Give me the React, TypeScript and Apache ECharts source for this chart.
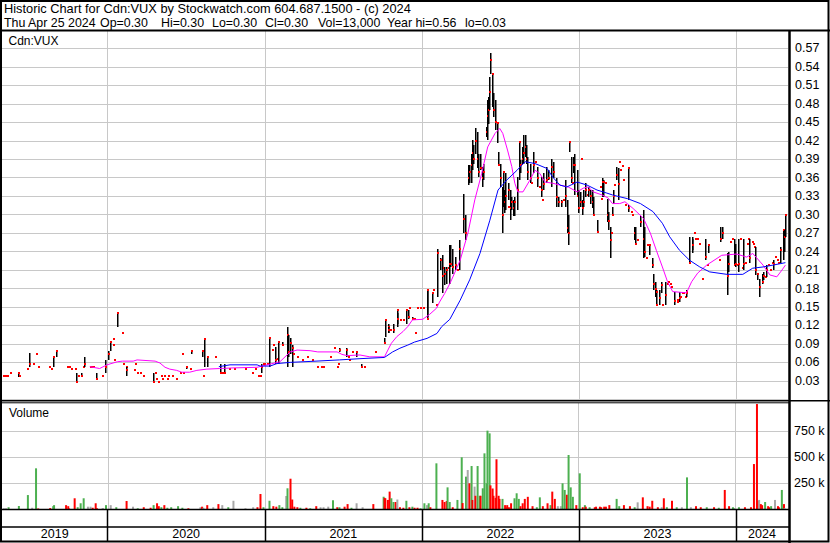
import React, { useEffect, useRef } from "react";
import * as echarts from "echarts";

const FONT = "Arial, 'Liberation Sans', sans-serif";
const FS = 12.5;

const HEADER_LINE1 = "Historic Chart for Cdn:VUX by Stockwatch.com 604.687.1500 - (c) 2024";
const HEADER_LINE2_PARTS = ["Thu Apr 25 2024", "Op=0.30", "Hi=0.30", "Lo=0.30", "Cl=0.30", "Vol=13,000", "Year hi=0.56", "lo=0.03"];
const HEADER_LINE2_X = [4, 100, 161, 212, 265, 318, 387, 465];
const PRICE_TITLE = "Cdn:VUX";
const VOLUME_TITLE = "Volume";

const X_MIN = "2019-05-01";
const X_MAX = "2024-05-01";

const yearStarts = ["2020-01-01", "2021-01-01", "2022-01-01", "2023-01-01", "2024-01-01"];
const yearSegments: [string, string, string][] = [
  ["2019-05-01", "2020-01-01", "2019"],
  ["2020-01-01", "2021-01-01", "2020"],
  ["2021-01-01", "2022-01-01", "2021"],
  ["2022-01-01", "2023-01-01", "2022"],
  ["2023-01-01", "2024-01-01", "2023"],
  ["2024-01-01", "2024-05-01", "2024"],
];
const volumeGridValues = [250000, 500000, 750000];

// price bars: [date, low, high, close] or [date, close] (single-trade dot)
const price2019: any[] = [
  ["2019-05-03", 0.038], ["2019-05-08", 0.038], ["2019-05-13", 0.038], ["2019-05-20", 0.043],
  ["2019-06-07", 0.036, 0.044, 0.043], ["2019-06-10", 0.038], ["2019-06-28", 0.049],
  ["2019-07-03", 0.052, 0.075, 0.057], ["2019-07-12", 0.057], ["2019-07-19", 0.073], ["2019-07-24", 0.053],
  ["2019-08-19", 0.053], ["2019-08-23", 0.049], ["2019-08-28", 0.053, 0.069, 0.069], ["2019-09-03", 0.069, 0.079, 0.079],
  ["2019-09-30", 0.053], ["2019-10-04", 0.053], ["2019-10-08", 0.049], ["2019-10-17", 0.049],
  ["2019-10-21", 0.028, 0.043, 0.028], ["2019-10-24", 0.038], ["2019-10-31", 0.038, 0.043, 0.038],
  ["2019-11-05", 0.053], ["2019-11-07", 0.053, 0.069, 0.057], ["2019-11-21", 0.053], ["2019-11-26", 0.053],
  ["2019-11-28", 0.053], ["2019-12-05", 0.033, 0.043, 0.033], ["2019-12-20", 0.038], ["2019-12-27", 0.043, 0.064, 0.053],
];
const price2020: any[] = [
  ["2020-01-02", 0.064, 0.079, 0.073], ["2020-01-06", 0.079, 0.093, 0.093], ["2020-01-13", 0.088], ["2020-01-15", 0.098],
  ["2020-01-17", 0.064], ["2020-01-24", 0.118, 0.14, 0.14], ["2020-02-03", 0.108], ["2020-02-06", 0.057],
  ["2020-02-13", 0.053], ["2020-02-14", 0.038, 0.053, 0.047], ["2020-03-03", 0.047], ["2020-03-05", 0.057],
  ["2020-03-10", 0.043], ["2020-03-17", 0.043], ["2020-03-24", 0.038], ["2020-04-16", 0.028, 0.043, 0.028],
  ["2020-04-21", 0.043], ["2020-04-23", 0.033], ["2020-04-28", 0.028], ["2020-05-04", 0.038], ["2020-05-07", 0.033],
  ["2020-05-12", 0.038], ["2020-05-18", 0.033], ["2020-05-21", 0.038], ["2020-05-29", 0.038], ["2020-06-08", 0.033],
  ["2020-06-18", 0.043], ["2020-06-22", 0.073], ["2020-06-25", 0.043], ["2020-07-02", 0.049, 0.053, 0.053],
  ["2020-07-10", 0.049], ["2020-07-13", 0.073, 0.079, 0.079], ["2020-08-07", 0.069, 0.079, 0.079], ["2020-08-10", 0.038],
  ["2020-08-12", 0.053, 0.098, 0.098], ["2020-08-19", 0.053, 0.069, 0.069], ["2020-09-08", 0.069],
  ["2020-09-18", 0.043, 0.057, 0.043], ["2020-09-23", 0.043], ["2020-09-28", 0.043, 0.057, 0.043], ["2020-10-09", 0.049],
  ["2020-10-21", 0.049], ["2020-11-16", 0.049], ["2020-12-02", 0.043], ["2020-12-09", 0.049], ["2020-12-16", 0.038],
  ["2020-12-21", 0.038], ["2020-12-23", 0.043, 0.057, 0.053], ["2020-12-28", 0.057], ["2020-12-31", 0.057],
];
const price2021: any[] = [
  ["2021-01-06", 0.057], ["2021-01-11", 0.053, 0.1, 0.099], ["2021-01-18", 0.08], ["2021-01-20", 0.088],
  ["2021-01-25", 0.058, 0.085, 0.064], ["2021-01-29", 0.066], ["2021-02-01", 0.058, 0.093, 0.093],
  ["2021-02-10", 0.088, 0.093, 0.088], ["2021-02-22", 0.053, 0.118, 0.104], ["2021-02-24", 0.069, 0.104, 0.077],
  ["2021-03-01", 0.073, 0.099, 0.092], ["2021-03-05", 0.053, 0.088, 0.083], ["2021-03-08", 0.073], ["2021-03-17", 0.069],
  ["2021-03-29", 0.064], ["2021-04-09", 0.069], ["2021-04-20", 0.064], ["2021-05-03", 0.053], ["2021-05-11", 0.053],
  ["2021-05-17", 0.053], ["2021-06-01", 0.069], ["2021-06-10", 0.083], ["2021-06-18", 0.053], ["2021-06-21", 0.058],
  ["2021-06-23", 0.077, 0.083, 0.08], ["2021-07-08", 0.069, 0.083, 0.08], ["2021-07-13", 0.069], ["2021-07-16", 0.064],
  ["2021-07-23", 0.077], ["2021-08-02", 0.069, 0.077, 0.077], ["2021-08-12", 0.053, 0.058, 0.053], ["2021-08-20", 0.053],
  ["2021-09-13", 0.077], ["2021-09-15", 0.077], ["2021-10-05", 0.092, 0.099, 0.092], ["2021-10-08", 0.102, 0.129, 0.129],
  ["2021-10-14", 0.108, 0.123, 0.118], ["2021-10-15", 0.107, 0.118, 0.112], ["2021-10-20", 0.112],
  ["2021-10-25", 0.107, 0.123, 0.112], ["2021-10-27", 0.112], ["2021-11-04", 0.118, 0.145, 0.145],
  ["2021-11-05", 0.123, 0.14, 0.131], ["2021-11-11", 0.129], ["2021-11-18", 0.129], ["2021-11-26", 0.123, 0.145, 0.145],
  ["2021-11-29", 0.131, 0.145, 0.134], ["2021-12-02", 0.148], ["2021-12-08", 0.131], ["2021-12-10", 0.131, 0.134, 0.131],
  ["2021-12-13", 0.131], ["2021-12-17", 0.108], ["2021-12-20", 0.148], ["2021-12-27", 0.148],
];
const price2022: any[] = [
  ["2022-01-03", 0.148], ["2022-01-13", 0.129, 0.177, 0.131], ["2022-01-14", 0.134, 0.177, 0.177],
  ["2022-01-24", 0.156, 0.172, 0.172], ["2022-01-26", 0.177], ["2022-02-02", 0.153], ["2022-02-04", 0.167, 0.245, 0.238],
  ["2022-02-11", 0.21, 0.229, 0.226], ["2022-02-16", 0.172, 0.234, 0.2], ["2022-02-18", 0.213],
  ["2022-02-21", 0.186, 0.215, 0.204], ["2022-02-25", 0.188, 0.215, 0.21], ["2022-03-02", 0.213],
  ["2022-03-04", 0.188, 0.25, 0.22], ["2022-03-07", 0.215, 0.25, 0.22], ["2022-03-11", 0.204, 0.245, 0.215],
  ["2022-03-18", 0.21, 0.231, 0.218], ["2022-03-23", 0.21], ["2022-03-28", 0.21, 0.259, 0.245],
  ["2022-04-06", 0.27, 0.334, 0.293], ["2022-04-11", 0.259, 0.299, 0.27], ["2022-04-18", 0.348, 0.38, 0.36],
  ["2022-04-20", 0.351, 0.38, 0.37], ["2022-04-25", 0.351, 0.399, 0.38], ["2022-04-27", 0.372, 0.421, 0.4],
  ["2022-04-29", 0.383, 0.413, 0.39], ["2022-05-04", 0.399, 0.44, 0.42], ["2022-05-09", 0.375, 0.435, 0.39],
  ["2022-05-11", 0.361, 0.399, 0.37], ["2022-05-16", 0.372, 0.399, 0.375], ["2022-05-20", 0.345, 0.378, 0.36],
  ["2022-05-23", 0.356, 0.383, 0.37], ["2022-05-30", 0.426, 0.443, 0.435], ["2022-06-01", 0.421, 0.486, 0.46],
  ["2022-06-03", 0.448, 0.491, 0.47], ["2022-06-06", 0.47, 0.524, 0.5], ["2022-06-08", 0.529, 0.562, 0.552],
  ["2022-06-13", 0.475, 0.529, 0.529], ["2022-06-15", 0.459, 0.497, 0.47], ["2022-06-20", 0.437, 0.486, 0.45],
  ["2022-06-24", 0.416, 0.451, 0.449], ["2022-06-27", 0.38, 0.402, 0.38], ["2022-07-01", 0.345, 0.383, 0.36],
  ["2022-07-06", 0.27, 0.345, 0.3], ["2022-07-08", 0.313, 0.37, 0.37], ["2022-07-12", 0.302, 0.34, 0.32],
  ["2022-07-14", 0.307, 0.367, 0.33], ["2022-07-19", 0.324, 0.351, 0.34], ["2022-07-21", 0.313],
  ["2022-07-25", 0.291, 0.34, 0.31], ["2022-07-27", 0.307, 0.329, 0.32], ["2022-08-01", 0.297, 0.324, 0.31],
  ["2022-08-03", 0.297, 0.329, 0.32], ["2022-08-10", 0.307, 0.361, 0.34], ["2022-08-15", 0.356, 0.418, 0.418],
  ["2022-08-17", 0.367, 0.389, 0.38], ["2022-08-22", 0.383, 0.41, 0.39], ["2022-08-24", 0.383, 0.429, 0.4],
  ["2022-08-29", 0.394, 0.429, 0.41], ["2022-08-31", 0.383, 0.413, 0.39], ["2022-09-02", 0.356, 0.394, 0.37],
  ["2022-09-09", 0.351, 0.383, 0.36], ["2022-09-12", 0.351], ["2022-09-16", 0.367, 0.402, 0.38], ["2022-09-21", 0.386],
  ["2022-09-26", 0.345, 0.378, 0.36], ["2022-09-30", 0.345], ["2022-10-05", 0.329, 0.361, 0.34], ["2022-10-07", 0.324],
  ["2022-10-10", 0.34, 0.367, 0.35], ["2022-10-17", 0.351, 0.378, 0.356], ["2022-10-21", 0.356, 0.372, 0.36],
  ["2022-10-28", 0.345, 0.391, 0.378], ["2022-11-01", 0.359, 0.386, 0.37], ["2022-11-08", 0.313, 0.359, 0.329],
  ["2022-11-14", 0.313, 0.329, 0.32], ["2022-11-21", 0.313, 0.324, 0.32], ["2022-11-25", 0.324],
  ["2022-11-30", 0.313, 0.356, 0.33], ["2022-12-05", 0.27, 0.324, 0.278], ["2022-12-07", 0.25, 0.299, 0.27],
  ["2022-12-09", 0.402, 0.418, 0.418], ["2022-12-14", 0.351, 0.394, 0.36], ["2022-12-16", 0.351],
  ["2022-12-19", 0.367, 0.394, 0.38], ["2022-12-21", 0.332, 0.399, 0.38], ["2022-12-27", 0.329, 0.372, 0.33],
  ["2022-12-30", 0.302, 0.34, 0.31],
];
const price2023: any[] = [
  ["2023-01-04", 0.313, 0.337, 0.32], ["2023-01-06", 0.391], ["2023-01-09", 0.299, 0.324, 0.31],
  ["2023-01-11", 0.313, 0.34, 0.32], ["2023-01-16", 0.329, 0.351, 0.34], ["2023-01-20", 0.332],
  ["2023-01-23", 0.329, 0.345, 0.34], ["2023-01-27", 0.318, 0.34, 0.33], ["2023-02-01", 0.31, 0.34, 0.32],
  ["2023-02-03", 0.299, 0.329, 0.299], ["2023-02-13", 0.272, 0.291, 0.272], ["2023-02-20", 0.345], ["2023-02-21", 0.326],
  ["2023-02-24", 0.329, 0.359, 0.353], ["2023-02-27", 0.329, 0.356, 0.353], ["2023-03-02", 0.351],
  ["2023-03-07", 0.288, 0.326, 0.3], ["2023-03-10", 0.275, 0.305, 0.29], ["2023-03-15", 0.229, 0.28, 0.259],
  ["2023-03-17", 0.27], ["2023-03-20", 0.297, 0.313, 0.3], ["2023-03-22", 0.318, 0.34, 0.33], ["2023-03-24", 0.348],
  ["2023-03-29", 0.356, 0.378, 0.364], ["2023-04-03", 0.324, 0.375, 0.35], ["2023-04-04", 0.386], ["2023-04-06", 0.372],
  ["2023-04-10", 0.379], ["2023-04-14", 0.356], ["2023-04-17", 0.315], ["2023-04-24", 0.324, 0.375, 0.375],
  ["2023-04-26", 0.305, 0.315, 0.31], ["2023-05-01", 0.305], ["2023-05-05", 0.299], ["2023-05-08", 0.259, 0.28, 0.27],
  ["2023-05-12", 0.253, 0.28, 0.253], ["2023-05-17", 0.259], ["2023-05-24", 0.28, 0.297, 0.288],
  ["2023-05-31", 0.229, 0.307, 0.26], ["2023-06-02", 0.231, 0.28, 0.24], ["2023-06-05", 0.229], ["2023-06-08", 0.25],
  ["2023-06-13", 0.234, 0.25, 0.25], ["2023-06-19", 0.213, 0.229, 0.218], ["2023-06-22", 0.177, 0.204, 0.188],
  ["2023-06-26", 0.167, 0.191, 0.18], ["2023-06-29", 0.153, 0.177, 0.153], ["2023-06-30", 0.175],
  ["2023-07-06", 0.153, 0.177, 0.165], ["2023-07-10", 0.172, 0.191, 0.186], ["2023-07-14", 0.153],
  ["2023-07-19", 0.153, 0.191, 0.17], ["2023-07-24", 0.188], ["2023-07-26", 0.191], ["2023-07-31", 0.188],
  ["2023-08-03", 0.183], ["2023-08-11", 0.153, 0.175, 0.16], ["2023-08-16", 0.161], ["2023-08-18", 0.158],
  ["2023-08-21", 0.158, 0.175, 0.165], ["2023-08-23", 0.167], ["2023-08-28", 0.172], ["2023-08-30", 0.172],
  ["2023-09-05", 0.167], ["2023-09-07", 0.167, 0.177, 0.172], ["2023-09-08", 0.175], ["2023-09-15", 0.221, 0.264, 0.221],
  ["2023-09-20", 0.237, 0.264, 0.25], ["2023-09-22", 0.242, 0.26, 0.25], ["2023-09-25", 0.27], ["2023-09-27", 0.26],
  ["2023-10-02", 0.261], ["2023-10-06", 0.253], ["2023-10-13", 0.196], ["2023-10-20", 0.226, 0.261, 0.231],
  ["2023-10-25", 0.218], ["2023-10-27", 0.237, 0.25, 0.25], ["2023-11-22", 0.226], ["2023-11-24", 0.256, 0.28, 0.26],
  ["2023-11-29", 0.26, 0.28, 0.27], ["2023-12-11", 0.169, 0.237, 0.2], ["2023-12-13", 0.207, 0.24, 0.22],
  ["2023-12-18", 0.256], ["2023-12-22", 0.26], ["2023-12-27", 0.218, 0.26, 0.218], ["2023-12-29", 0.215, 0.253, 0.22],
];
const price2024: any[] = [
  ["2024-01-03", 0.218], ["2024-01-05", 0.207, 0.26, 0.22], ["2024-01-10", 0.26], ["2024-01-15", 0.213],
  ["2024-01-17", 0.21, 0.26, 0.22], ["2024-01-22", 0.221], ["2024-01-26", 0.253], ["2024-01-29", 0.26],
  ["2024-01-31", 0.221, 0.261, 0.23], ["2024-02-07", 0.256], ["2024-02-09", 0.253], ["2024-02-12", 0.248],
  ["2024-02-14", 0.202, 0.248, 0.21], ["2024-02-19", 0.194, 0.204, 0.204], ["2024-02-23", 0.167, 0.196, 0.183],
  ["2024-03-01", 0.188, 0.204, 0.19], ["2024-03-04", 0.194, 0.207, 0.2], ["2024-03-08", 0.199],
  ["2024-03-11", 0.199, 0.218, 0.21], ["2024-03-15", 0.218], ["2024-03-20", 0.21], ["2024-03-25", 0.221],
  ["2024-03-27", 0.21, 0.226, 0.22], ["2024-04-01", 0.231], ["2024-04-05", 0.226], ["2024-04-08", 0.221],
  ["2024-04-12", 0.221, 0.248, 0.242], ["2024-04-19", 0.226, 0.275, 0.275], ["2024-04-22", 0.24, 0.275, 0.264],
  ["2024-04-23", 0.264, 0.3, 0.3], ["2024-04-25", 0.3],
];

// volume: [date, shares, direction (1 up / -1 down / 0 unchanged)]
const vol2019: any[] = [
  ["2019-05-03", 10000, 0], ["2019-05-08", 10000, 0], ["2019-05-14", 20000, 1], ["2019-06-07", 32000, 1],
  ["2019-06-28", 137000, 1], ["2019-07-08", 15000, 0], ["2019-07-17", 394000, 1], ["2019-07-22", 8000, -1],
  ["2019-08-19", 12000, -1], ["2019-08-26", 30000, 1], ["2019-08-28", 40000, 1], ["2019-09-25", 40000, -1],
  ["2019-09-30", 30000, -1], ["2019-10-02", 8000, -1], ["2019-10-15", 106000, -1], ["2019-10-22", 20000, 1],
  ["2019-10-29", 58000, 1], ["2019-11-05", 106000, 1], ["2019-11-15", 25000, 0], ["2019-11-21", 25000, 0],
  ["2019-11-26", 15000, -1], ["2019-12-03", 58000, -1], ["2019-12-06", 10000, -1], ["2019-12-19", 10000, 0],
  ["2019-12-20", 10000, 0], ["2019-12-27", 40000, 1],
];
const vol2020: any[] = [
  ["2020-01-07", 40000, 0], ["2020-01-20", 20000, 1], ["2020-02-13", 80000, -1], ["2020-02-28", 25000, 0],
  ["2020-03-10", 10000, 1], ["2020-03-24", 20000, -1], ["2020-04-09", 15000, -1], ["2020-04-16", 40000, 1],
  ["2020-04-24", 58000, -1], ["2020-04-28", 30000, -1], ["2020-05-04", 20000, 1], ["2020-05-11", 40000, -1],
  ["2020-05-18", 15000, 1], ["2020-05-27", 20000, 1], ["2020-06-12", 30000, 1], ["2020-06-22", 15000, 1],
  ["2020-07-06", 10000, -1], ["2020-08-03", 20000, 0], ["2020-08-07", 25000, -1], ["2020-08-10", 15000, 0],
  ["2020-08-19", 40000, -1], ["2020-09-02", 20000, 0], ["2020-09-14", 50000, -1], ["2020-09-23", 40000, 0],
  ["2020-10-07", 20000, 1], ["2020-10-19", 82000, 0], ["2020-11-16", 10000, 0], ["2020-12-04", 20000, 0],
  ["2020-12-14", 20000, -1], ["2020-12-21", 147000, -1], ["2020-12-28", 20000, 1],
];
const vol2021: any[] = [
  ["2021-01-11", 82000, 1], ["2021-01-20", 30000, -1], ["2021-01-27", 25000, -1], ["2021-02-03", 40000, 1],
  ["2021-02-10", 20000, 1], ["2021-02-19", 128000, 0], ["2021-02-22", 202000, 1], ["2021-03-01", 294000, -1],
  ["2021-03-05", 94000, -1], ["2021-03-10", 25000, -1], ["2021-03-17", 20000, -1], ["2021-03-24", 15000, 1],
  ["2021-04-07", 15000, -1], ["2021-04-16", 10000, 1], ["2021-04-30", 30000, -1], ["2021-05-10", 20000, 0],
  ["2021-05-17", 20000, 0], ["2021-05-28", 25000, 0], ["2021-06-08", 87000, 1], ["2021-06-18", 20000, -1],
  ["2021-06-23", 20000, 1], ["2021-07-05", 25000, -1], ["2021-07-12", 50000, -1], ["2021-07-21", 15000, 1],
  ["2021-08-02", 58000, 0], ["2021-08-16", 20000, 0], ["2021-09-10", 50000, -1], ["2021-10-04", 121000, 1],
  ["2021-10-06", 110000, -1], ["2021-10-08", 106000, -1], ["2021-10-14", 90000, -1], ["2021-10-18", 170000, -1],
  ["2021-10-22", 106000, 1], ["2021-10-27", 70000, 1], ["2021-11-01", 70000, -1], ["2021-11-05", 94000, 0],
  ["2021-11-11", 20000, -1], ["2021-11-19", 15000, -1], ["2021-11-26", 82000, 1], ["2021-12-03", 20000, -1],
  ["2021-12-10", 25000, 1], ["2021-12-15", 15000, -1], ["2021-12-22", 15000, -1], ["2021-12-29", 10000, 1],
];
const vol2022: any[] = [
  ["2022-01-07", 58000, 1], ["2022-01-13", 40000, 0], ["2022-01-17", 58000, 1], ["2022-01-21", 20000, -1],
  ["2022-02-04", 442000, 1], ["2022-02-18", 90000, -1], ["2022-02-23", 70000, -1], ["2022-02-28", 80000, -1],
  ["2022-03-02", 211000, 1], ["2022-03-07", 70000, 1], ["2022-03-14", 20000, -1], ["2022-03-25", 90000, 1],
  ["2022-04-04", 500000, 1], ["2022-04-06", 60000, -1], ["2022-04-14", 314000, 1], ["2022-04-18", 378000, 0],
  ["2022-04-22", 250000, -1], ["2022-04-27", 416000, 1], ["2022-04-29", 90000, -1], ["2022-05-04", 218000, 0],
  ["2022-05-06", 130000, -1], ["2022-05-11", 416000, 1], ["2022-05-16", 130000, 1], ["2022-05-18", 130000, -1],
  ["2022-05-23", 202000, 1], ["2022-05-27", 538000, 1], ["2022-06-01", 250000, 1], ["2022-06-03", 756000, 1],
  ["2022-06-08", 730000, 1], ["2022-06-10", 230000, -1], ["2022-06-15", 200000, -1], ["2022-06-17", 130000, -1],
  ["2022-06-22", 110000, -1], ["2022-06-24", 481000, -1], ["2022-06-29", 130000, -1], ["2022-07-01", 100000, -1],
  ["2022-07-08", 100000, 1], ["2022-07-14", 40000, -1], ["2022-07-16", 20000, -1], ["2022-07-19", 40000, -1],
  ["2022-07-23", 20000, -1], ["2022-07-28", 58000, -1],
  ["2022-08-05", 106000, 1], ["2022-08-10", 154000, 1], ["2022-08-15", 100000, 1], ["2022-08-19", 30000, -1],
  ["2022-08-24", 58000, -1], ["2022-08-29", 100000, -1], ["2022-09-05", 120000, -1], ["2022-09-16", 30000, -1],
  ["2022-09-26", 20000, 1], ["2022-10-03", 115000, 1], ["2022-10-10", 30000, -1], ["2022-10-21", 58000, -1],
  ["2022-10-28", 40000, 1], ["2022-11-01", 170000, -1], ["2022-11-07", 100000, -1], ["2022-11-14", 30000, 0],
  ["2022-11-21", 30000, 0], ["2022-11-25", 250000, 1], ["2022-11-30", 186000, 1], ["2022-12-05", 140000, -1],
  ["2022-12-09", 522000, 1], ["2022-12-14", 211000, 1], ["2022-12-19", 120000, 1], ["2022-12-27", 40000, -1],
];
const vol2023: any[] = [
  ["2023-01-04", 346000, 1], ["2023-01-11", 20000, -1], ["2023-01-16", 40000, 1], ["2023-01-18", 25000, -1],
  ["2023-01-27", 20000, 1], ["2023-02-08", 20000, -1], ["2023-02-11", 25000, -1], ["2023-02-20", 25000, -1],
  ["2023-02-23", 20000, -1], ["2023-03-02", 25000, -1], ["2023-03-06", 25000, -1], ["2023-03-14", 40000, -1],
  ["2023-03-31", 100000, 1], ["2023-04-06", 30000, 1], ["2023-04-17", 40000, -1], ["2023-05-01", 30000, -1],
  ["2023-05-12", 20000, 1], ["2023-05-19", 67000, 0], ["2023-05-31", 115000, -1], ["2023-06-11", 30000, -1],
  ["2023-06-16", 25000, -1], ["2023-06-22", 82000, -1], ["2023-07-05", 20000, -1], ["2023-07-14", 20000, 0],
  ["2023-07-19", 106000, -1], ["2023-07-26", 20000, 1], ["2023-08-07", 82000, -1], ["2023-08-18", 20000, 1],
  ["2023-08-30", 20000, 0], ["2023-09-11", 307000, 1], ["2023-09-20", 20000, 0], ["2023-10-02", 30000, -1],
  ["2023-10-13", 20000, -1], ["2023-10-27", 20000, 1], ["2023-11-13", 20000, -1], ["2023-11-24", 15000, 1],
  ["2023-12-08", 186000, -1], ["2023-12-18", 30000, -1], ["2023-12-27", 20000, 1], ["2023-12-29", 10000, 1],
];
const vol2024: any[] = [
  ["2024-01-10", 20000, 1], ["2024-01-24", 20000, -1], ["2024-02-07", 20000, -1], ["2024-02-14", 435000, -1],
  ["2024-02-21", 1012000, -1], ["2024-02-23", 80000, -1], ["2024-02-26", 90000, 0], ["2024-03-01", 50000, -1],
  ["2024-03-04", 40000, -1], ["2024-03-11", 70000, 1], ["2024-03-18", 30000, -1], ["2024-03-20", 20000, -1],
  ["2024-03-25", 30000, 1], ["2024-04-03", 90000, 0], ["2024-04-10", 30000, -1], ["2024-04-12", 20000, -1],
  ["2024-04-19", 186000, 1], ["2024-04-24", 50000, -1], ["2024-04-25", 13000, 0],
];

// moving averages
const maShort: [string, number][] = [
  ["2019-11-21", 0.053], ["2019-12-14", 0.05], ["2019-12-31", 0.056], ["2020-01-24", 0.061], ["2020-02-05", 0.062],
  ["2020-03-01", 0.062], ["2020-03-10", 0.064], ["2020-04-21", 0.062], ["2020-05-02", 0.059], ["2020-05-14", 0.052],
  ["2020-05-25", 0.049], ["2020-06-10", 0.047], ["2020-06-22", 0.044], ["2020-07-10", 0.044], ["2020-07-27", 0.047],
  ["2020-08-19", 0.049], ["2020-09-18", 0.05], ["2020-10-19", 0.051], ["2020-12-14", 0.052], ["2021-01-06", 0.056],
  ["2021-02-05", 0.061], ["2021-03-01", 0.077], ["2021-03-17", 0.08], ["2021-04-16", 0.079], ["2021-05-04", 0.077],
  ["2021-06-18", 0.077], ["2021-06-29", 0.073], ["2021-07-11", 0.071], ["2021-08-10", 0.072], ["2021-09-02", 0.069],
  ["2021-10-06", 0.069], ["2021-10-14", 0.08], ["2021-10-22", 0.091], ["2021-11-04", 0.102], ["2021-11-18", 0.11],
  ["2021-11-29", 0.118], ["2021-12-10", 0.129], ["2022-01-03", 0.13], ["2022-01-19", 0.138], ["2022-02-04", 0.148],
  ["2022-02-11", 0.158], ["2022-02-23", 0.172], ["2022-03-07", 0.188], ["2022-03-11", 0.194], ["2022-03-31", 0.226],
  ["2022-04-18", 0.27], ["2022-05-04", 0.324], ["2022-05-20", 0.367], ["2022-06-03", 0.41], ["2022-06-20", 0.432],
  ["2022-07-01", 0.44], ["2022-07-08", 0.432], ["2022-07-19", 0.405], ["2022-07-29", 0.378], ["2022-08-05", 0.351],
  ["2022-08-12", 0.337], ["2022-08-24", 0.337], ["2022-09-09", 0.356], ["2022-09-21", 0.372], ["2022-10-02", 0.367],
  ["2022-10-14", 0.353], ["2022-11-01", 0.351], ["2022-11-18", 0.348], ["2022-12-07", 0.345], ["2022-12-28", 0.337],
  ["2023-01-11", 0.343], ["2023-01-23", 0.345], ["2023-02-03", 0.337], ["2023-02-24", 0.332], ["2023-03-10", 0.327],
  ["2023-03-20", 0.318], ["2023-04-06", 0.318], ["2023-04-18", 0.321], ["2023-05-07", 0.31], ["2023-05-31", 0.294],
  ["2023-06-16", 0.27], ["2023-06-30", 0.242], ["2023-07-14", 0.215], ["2023-07-26", 0.191], ["2023-08-07", 0.175],
  ["2023-09-08", 0.173], ["2023-09-20", 0.191], ["2023-10-04", 0.205], ["2023-10-25", 0.218], ["2023-11-29", 0.234],
  ["2024-01-03", 0.236], ["2024-01-26", 0.231], ["2024-02-09", 0.237], ["2024-03-04", 0.218], ["2024-03-20", 0.202],
  ["2024-04-05", 0.199], ["2024-04-17", 0.21], ["2024-04-25", 0.218],
];
const maLong: [string, number][] = [
  ["2020-09-16", 0.053], ["2020-10-12", 0.056], ["2020-12-14", 0.056], ["2020-12-21", 0.054], ["2021-01-13", 0.054],
  ["2021-01-29", 0.058], ["2021-03-01", 0.06], ["2021-04-16", 0.0615], ["2021-06-23", 0.064], ["2021-08-10", 0.066],
  ["2021-10-06", 0.068], ["2021-10-25", 0.077], ["2021-11-11", 0.083], ["2021-11-29", 0.088], ["2021-12-15", 0.093],
  ["2022-01-13", 0.099], ["2022-02-05", 0.107], ["2022-02-16", 0.118], ["2022-03-07", 0.13], ["2022-03-31", 0.161],
  ["2022-04-22", 0.194], ["2022-05-16", 0.237], ["2022-06-08", 0.291], ["2022-06-27", 0.34], ["2022-07-17", 0.356],
  ["2022-08-10", 0.372], ["2022-08-29", 0.386], ["2022-09-21", 0.383], ["2022-10-19", 0.375], ["2022-11-01", 0.361],
  ["2022-11-18", 0.348], ["2022-12-04", 0.345], ["2022-12-28", 0.353], ["2023-01-20", 0.348], ["2023-02-12", 0.34],
  ["2023-03-07", 0.335], ["2023-03-20", 0.332], ["2023-04-06", 0.329], ["2023-04-24", 0.326], ["2023-05-24", 0.318],
  ["2023-06-22", 0.305], ["2023-07-14", 0.286], ["2023-07-31", 0.264], ["2023-08-23", 0.242], ["2023-09-15", 0.226],
  ["2023-10-09", 0.215], ["2023-11-01", 0.207], ["2023-12-11", 0.203], ["2024-01-17", 0.203], ["2024-02-09", 0.213],
  ["2024-03-04", 0.215], ["2024-03-27", 0.218], ["2024-04-25", 0.222],
];

const GREEN = "#4cb050";
const RED = "#ff0000";
const GREY = "#a8a8a8";
const GRID = "#c8c8c8";

export default function App() {
  const ref = useRef<HTMLDivElement>(null);
  useEffect(() => {
    const el = ref.current!;
    const chart = echarts.init(el, null, { renderer: "svg" });

    const priceBars = [...price2019, ...price2020, ...price2021, ...price2022, ...price2023, ...price2024].map((r) =>
      r.length === 2 ? [r[0], r[1], r[1], r[1]] : r
    );
    const volumes = [...vol2019, ...vol2020, ...vol2021, ...vol2022, ...vol2023, ...vol2024];

    const yearLineSeries = (gridIdx: number, color: string, width: number) => ({
      type: "custom",
      xAxisIndex: gridIdx,
      yAxisIndex: gridIdx,
      silent: true,
      z: 1,
      encode: { x: 0, y: 1 },
      data: yearStarts.map((d) => [d, 0]),
      renderItem: (params: any, api: any) => {
        const x = Math.round(api.coord([api.value(0), 0])[0]) + 0.5;
        const cs = params.coordSys;
        return {
          type: "line",
          shape: { x1: x, y1: cs.y, x2: x, y2: cs.y + cs.height },
          style: { stroke: color, lineWidth: width },
        };
      },
    });

    const labelStyle = { color: "#000", fontSize: FS, fontFamily: FONT };
    const textEl = (text: string, x: number, y: number, size: number) => ({
      type: "text",
      x,
      y,
      z: 100,
      style: { text, fill: "#000", fontSize: size, fontFamily: FONT, verticalAlign: "middle" },
    });

    const option: any = {
      animation: false,
      backgroundColor: "#ffffff",
      grid: [
        { left: 2, right: 42, top: 30, height: 369.3 },
        { left: 2, right: 42, top: 403, height: 106.3 },
        { left: 2, right: 42, top: 509.3, height: 32 },
      ],
      xAxis: [0, 1, 2].map((i) => ({ type: "time", gridIndex: i, min: X_MIN, max: X_MAX, show: false })),
      yAxis: [
        {
          type: "value",
          gridIndex: 0,
          position: "right",
          min: 0,
          max: 0.6,
          interval: 0.03,
          axisLine: { show: false },
          axisTick: { show: false },
          splitLine: { show: true, lineStyle: { color: GRID, width: 1 } },
          axisLabel: {
            ...labelStyle,
            margin: 7,
            formatter: (v: number) => (v < 0.001 || v > 0.599 ? "" : v.toFixed(2)),
          },
        },
        {
          type: "value",
          gridIndex: 1,
          position: "right",
          min: 0,
          max: 1022000,
          interval: 250000,
          axisLine: { show: false },
          axisTick: { show: false },
          splitLine: { show: false },
          axisLabel: {
            ...labelStyle,
            margin: 6,
            formatter: (v: number) => (v > 0 && v < 1000000 ? `${Math.round(v / 1000)} k` : ""),
          },
        },
        { type: "value", gridIndex: 2, min: 0, max: 1, show: false },
      ],
      series: [
        yearLineSeries(0, GRID, 1),
        yearLineSeries(1, GRID, 1),
        yearLineSeries(2, "#000", 1.5),
        {
          type: "custom",
          xAxisIndex: 1,
          yAxisIndex: 1,
          silent: true,
          z: 1,
          encode: { x: 0, y: 1 },
          data: volumeGridValues.map((v) => [X_MIN, v]),
          renderItem: (params: any, api: any) => {
            const y = Math.round(api.coord([api.value(0), api.value(1)])[1]) + 0.5;
            const cs = params.coordSys;
            return {
              type: "line",
              shape: { x1: cs.x, y1: y, x2: cs.x + cs.width, y2: y },
              style: { stroke: GRID, lineWidth: 1 },
            };
          },
        },
        {
          type: "custom",
          xAxisIndex: 2,
          yAxisIndex: 2,
          silent: true,
          z: 3,
          encode: { x: 0, y: 1 },
          data: yearSegments.map((s) => [s[0], 0]),
          renderItem: (params: any, api: any) => {
            const seg = yearSegments[params.dataIndex];
            const x0 = api.coord([+new Date(seg[0] + "T00:00:00"), 0])[0];
            const x1 = api.coord([+new Date(seg[1] + "T00:00:00"), 0])[0];
            const cs = params.coordSys;
            return {
              type: "text",
              x: (x0 + x1) / 2,
              y: cs.y + cs.height - 7,
              style: {
                text: seg[2],
                fill: "#000",
                fontSize: FS,
                fontFamily: FONT,
                align: "center",
                verticalAlign: "middle",
              },
            };
          },
        },
        {
          name: "Volume",
          type: "bar",
          xAxisIndex: 1,
          yAxisIndex: 1,
          barWidth: 2,
          z: 2,
          data: volumes.map((r) => ({
            value: [r[0], r[1]],
            itemStyle: { color: r[2] > 0 ? GREEN : r[2] < 0 ? RED : GREY },
          })),
        },
        {
          name: "Price",
          type: "custom",
          xAxisIndex: 0,
          yAxisIndex: 0,
          z: 2,
          dimensions: [{ name: "date", type: "time" }, "low", "high", "close"],
          encode: { x: 0, y: [1, 2, 3] },
          data: priceBars,
          renderItem: (params: any, api: any) => {
            const t = api.value(0);
            const pL = api.coord([t, api.value(1)]);
            const pH = api.coord([t, api.value(2)]);
            const pC = api.coord([t, api.value(3)]);
            const x = Math.round(pL[0]);
            const children: any[] = [];
            if (pL[1] - pH[1] >= 1) {
              children.push({
                type: "line",
                shape: { x1: x + 0.75, y1: Math.round(pH[1]), x2: x + 0.75, y2: Math.round(pL[1]) },
                style: { stroke: "#000", lineWidth: 1.5 },
              });
            }
            children.push({
              type: "rect",
              shape: { x: x, y: Math.round(pC[1]) - 1, width: 2, height: 2 },
              style: { fill: RED },
            });
            return { type: "group", children };
          },
        },
        {
          name: "MA short",
          type: "line",
          xAxisIndex: 0,
          yAxisIndex: 0,
          z: 4,
          showSymbol: false,
          symbol: "none",
          lineStyle: { color: "#ff00ff", width: 1 },
          data: maShort,
        },
        {
          name: "MA long",
          type: "line",
          xAxisIndex: 0,
          yAxisIndex: 0,
          z: 4,
          showSymbol: false,
          symbol: "none",
          lineStyle: { color: "#0000ff", width: 1 },
          data: maLong,
        },
      ],
      graphic: [
        textEl(HEADER_LINE1, 4, 8.6, 12.8),
        ...HEADER_LINE2_PARTS.map((t, i) => textEl(t, HEADER_LINE2_X[i], 22.8, 12.4)),
        textEl(PRICE_TITLE, 8.5, 40.8, 12),
        textEl(VOLUME_TITLE, 9, 413.3, 12),
        {
          type: "rect",
          z: 100,
          shape: { x: 1, y: 1, width: 827.5, height: 540.5 },
          style: { fill: "none", stroke: "#000", lineWidth: 2 },
        },
        { type: "line", z: 100, shape: { x1: 0, y1: 30.5, x2: 830, y2: 30.5 }, style: { stroke: "#000", lineWidth: 2 } },
        { type: "line", z: 100, shape: { x1: 789.5, y1: 30, x2: 789.5, y2: 543 }, style: { stroke: "#000", lineWidth: 2.5 } },
        { type: "line", z: 100, shape: { x1: 0, y1: 400.8, x2: 830, y2: 400.8 }, style: { stroke: "#000", lineWidth: 1.5 } },
        { type: "line", z: 100, shape: { x1: 0, y1: 402.8, x2: 789, y2: 402.8 }, style: { stroke: "#000", lineWidth: 1 } },
        { type: "line", z: 100, shape: { x1: 0, y1: 509.5, x2: 789, y2: 509.5 }, style: { stroke: "#000", lineWidth: 1.5 } },
        { type: "line", z: 100, shape: { x1: 0, y1: 527, x2: 789, y2: 527 }, style: { stroke: "#000", lineWidth: 1.5 } },
      ],
    };

    chart.setOption(option);
    return () => chart.dispose();
  }, []);

  return (
    <div
      ref={ref}
      style={{ position: "fixed", left: 0, top: 0, width: 830, height: 543, background: "#fff" }}
    />
  );
}
